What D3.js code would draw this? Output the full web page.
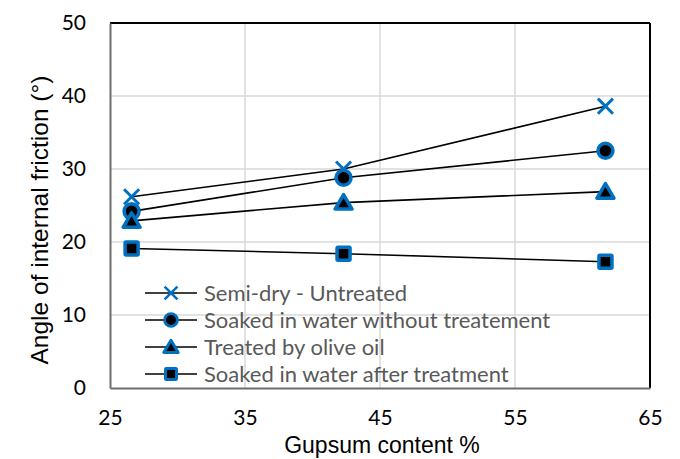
<!DOCTYPE html>
<html>
<head>
<meta charset="utf-8">
<script src="https://cdn.jsdelivr.net/npm/d3@7"></script>
<style>
  body { margin: 0; background: #fff; }
  svg { display: block; }
</style>
</head>
<body>
<svg width="680" height="459"></svg>
<script>
// data
var gypsum = [26.6, 42.3, 61.7];
var semiDry = [26.2, 30.0, 38.6];
var soakedNoTreat = [24.2, 28.8, 32.5];
var oliveOil = [22.9, 25.4, 26.9];
var soakedAfter = [19.1, 18.4, 17.3];
var seriesNames = ['Semi-dry - Untreated', 'Soaked in water without treatement', 'Treated by olive oil', 'Soaked in water after treatment'];
var seriesSymbols = ['cross', 'circle', 'triangle', 'square'];
var xTicks = [25, 35, 45, 55, 65];
var yTicks = [0, 10, 20, 30, 40, 50];

var series = [semiDry, soakedNoTreat, oliveOil, soakedAfter].map(function(vals, i) {
  return { name: seriesNames[i], symbol: seriesSymbols[i],
    points: vals.map(function(v, j) { return { x: gypsum[j], y: v }; }) };
});

var svg = d3.select('svg');
var pLeft = 110, pRight = 650, pTop = 23, pBottom = 388;
var blue = '#0070c0';

var x = d3.scaleLinear().domain([25, 65]).range([pLeft, pRight]);
var y = d3.scaleLinear().domain([0, 50]).range([pBottom, pTop]);

// gridlines
svg.append('g').selectAll('line.gx')
  .data(xTicks.slice(1, -1))
  .enter().append('line')
  .attr('x1', function(d) { return x(d); }).attr('x2', function(d) { return x(d); })
  .attr('y1', pTop).attr('y2', pBottom)
  .attr('stroke', '#d9d9d9').attr('stroke-width', 1.5);
svg.append('g').selectAll('line.gy')
  .data(yTicks.slice(1, -1))
  .enter().append('line')
  .attr('x1', pLeft).attr('x2', pRight)
  .attr('y1', function(d) { return y(d); }).attr('y2', function(d) { return y(d); })
  .attr('stroke', '#d9d9d9').attr('stroke-width', 1.5);

// frame: grey axes left/bottom, black top/right
svg.append('line').attr('x1', pLeft).attr('x2', pRight).attr('y1', pTop).attr('y2', pTop)
  .attr('stroke', '#000').attr('stroke-width', 2);
svg.append('line').attr('x1', pRight).attr('x2', pRight).attr('y1', pTop).attr('y2', pBottom)
  .attr('stroke', '#000').attr('stroke-width', 2);

var xAxis = svg.append('g').attr('transform', 'translate(0,' + pBottom + ')')
  .call(d3.axisBottom(x).tickValues(xTicks).tickSize(0).tickPadding(22));
var yAxis = svg.append('g').attr('transform', 'translate(' + pLeft + ',0)')
  .call(d3.axisLeft(y).tickValues(yTicks).tickSize(0).tickPadding(24));
[xAxis, yAxis].forEach(function(a) {
  a.select('.domain').attr('stroke', '#6e6e6e').attr('stroke-width', 2);
  a.selectAll('text').attr('font-family', 'Lato, Carlito, sans-serif')
    .attr('font-size', 21).attr('fill', '#000');
});

// lines
var line = d3.line().x(function(d) { return x(d.x); }).y(function(d) { return y(d.y); });
svg.append('g').selectAll('path.series')
  .data(series)
  .enter().append('path')
  .attr('d', function(d) { return line(d.points); })
  .attr('fill', 'none').attr('stroke', '#000').attr('stroke-width', 1.6);

function drawMarker(g, sym) {
  if (sym === 'cross') {
    g.append('path').attr('d', d3.symbol(d3.symbolX, 150)())
      .attr('fill', 'none').attr('stroke', blue).attr('stroke-width', 3);
  } else if (sym === 'circle') {
    g.append('circle').attr('r', 7.5).attr('fill', '#000').attr('stroke', blue).attr('stroke-width', 3.5);
  } else if (sym === 'triangle') {
    g.append('path').attr('d', 'M0,-8L8.5,6.5L-8.5,6.5Z')
      .attr('fill', '#000').attr('stroke', blue).attr('stroke-width', 3.5).attr('stroke-linejoin', 'round');
  } else {
    g.append('rect').attr('x', -6.5).attr('y', -6.5).attr('width', 13).attr('height', 13)
      .attr('fill', '#000').attr('stroke', blue).attr('stroke-width', 3.5).attr('rx', 1);
  }
}

series.forEach(function(s) {
  svg.append('g').selectAll('g.pt')
    .data(s.points)
    .enter().append('g')
    .attr('transform', function(d) { return 'translate(' + x(d.x) + ',' + y(d.y) + ')'; })
    .each(function() { drawMarker(d3.select(this), s.symbol); });
});

// legend
var legend = svg.append('g').attr('transform', 'translate(145,293)');
series.forEach(function(s, i) {
  var row = legend.append('g').attr('transform', 'translate(0,' + (i * 27) + ')');
  row.append('line').attr('x1', 0).attr('x2', 52).attr('y1', 0).attr('y2', 0)
    .attr('stroke', '#000').attr('stroke-width', 1.6);
  var m = row.append('g').attr('transform', 'translate(26,0) scale(0.85)');
  drawMarker(m, s.symbol);
  row.append('text').attr('x', 59).attr('y', 0).attr('dy', '0.36em')
    .attr('font-family', 'Lato, Carlito, sans-serif').attr('font-size', 22)
    .attr('fill', '#595959').text(s.name);
});

// axis titles
svg.append('text')
  .attr('transform', 'translate(48,220) rotate(-90)')
  .attr('text-anchor', 'middle')
  .attr('font-family', 'Liberation Sans, Arial, sans-serif').attr('font-size', 24.5)
  .text('Angle of internal friction (°)');
svg.append('text')
  .attr('x', 382).attr('y', 453)
  .attr('text-anchor', 'middle')
  .attr('font-family', 'Liberation Sans, Arial, sans-serif').attr('font-size', 23)
  .text('Gupsum content %');
</script>
</body>
</html>
